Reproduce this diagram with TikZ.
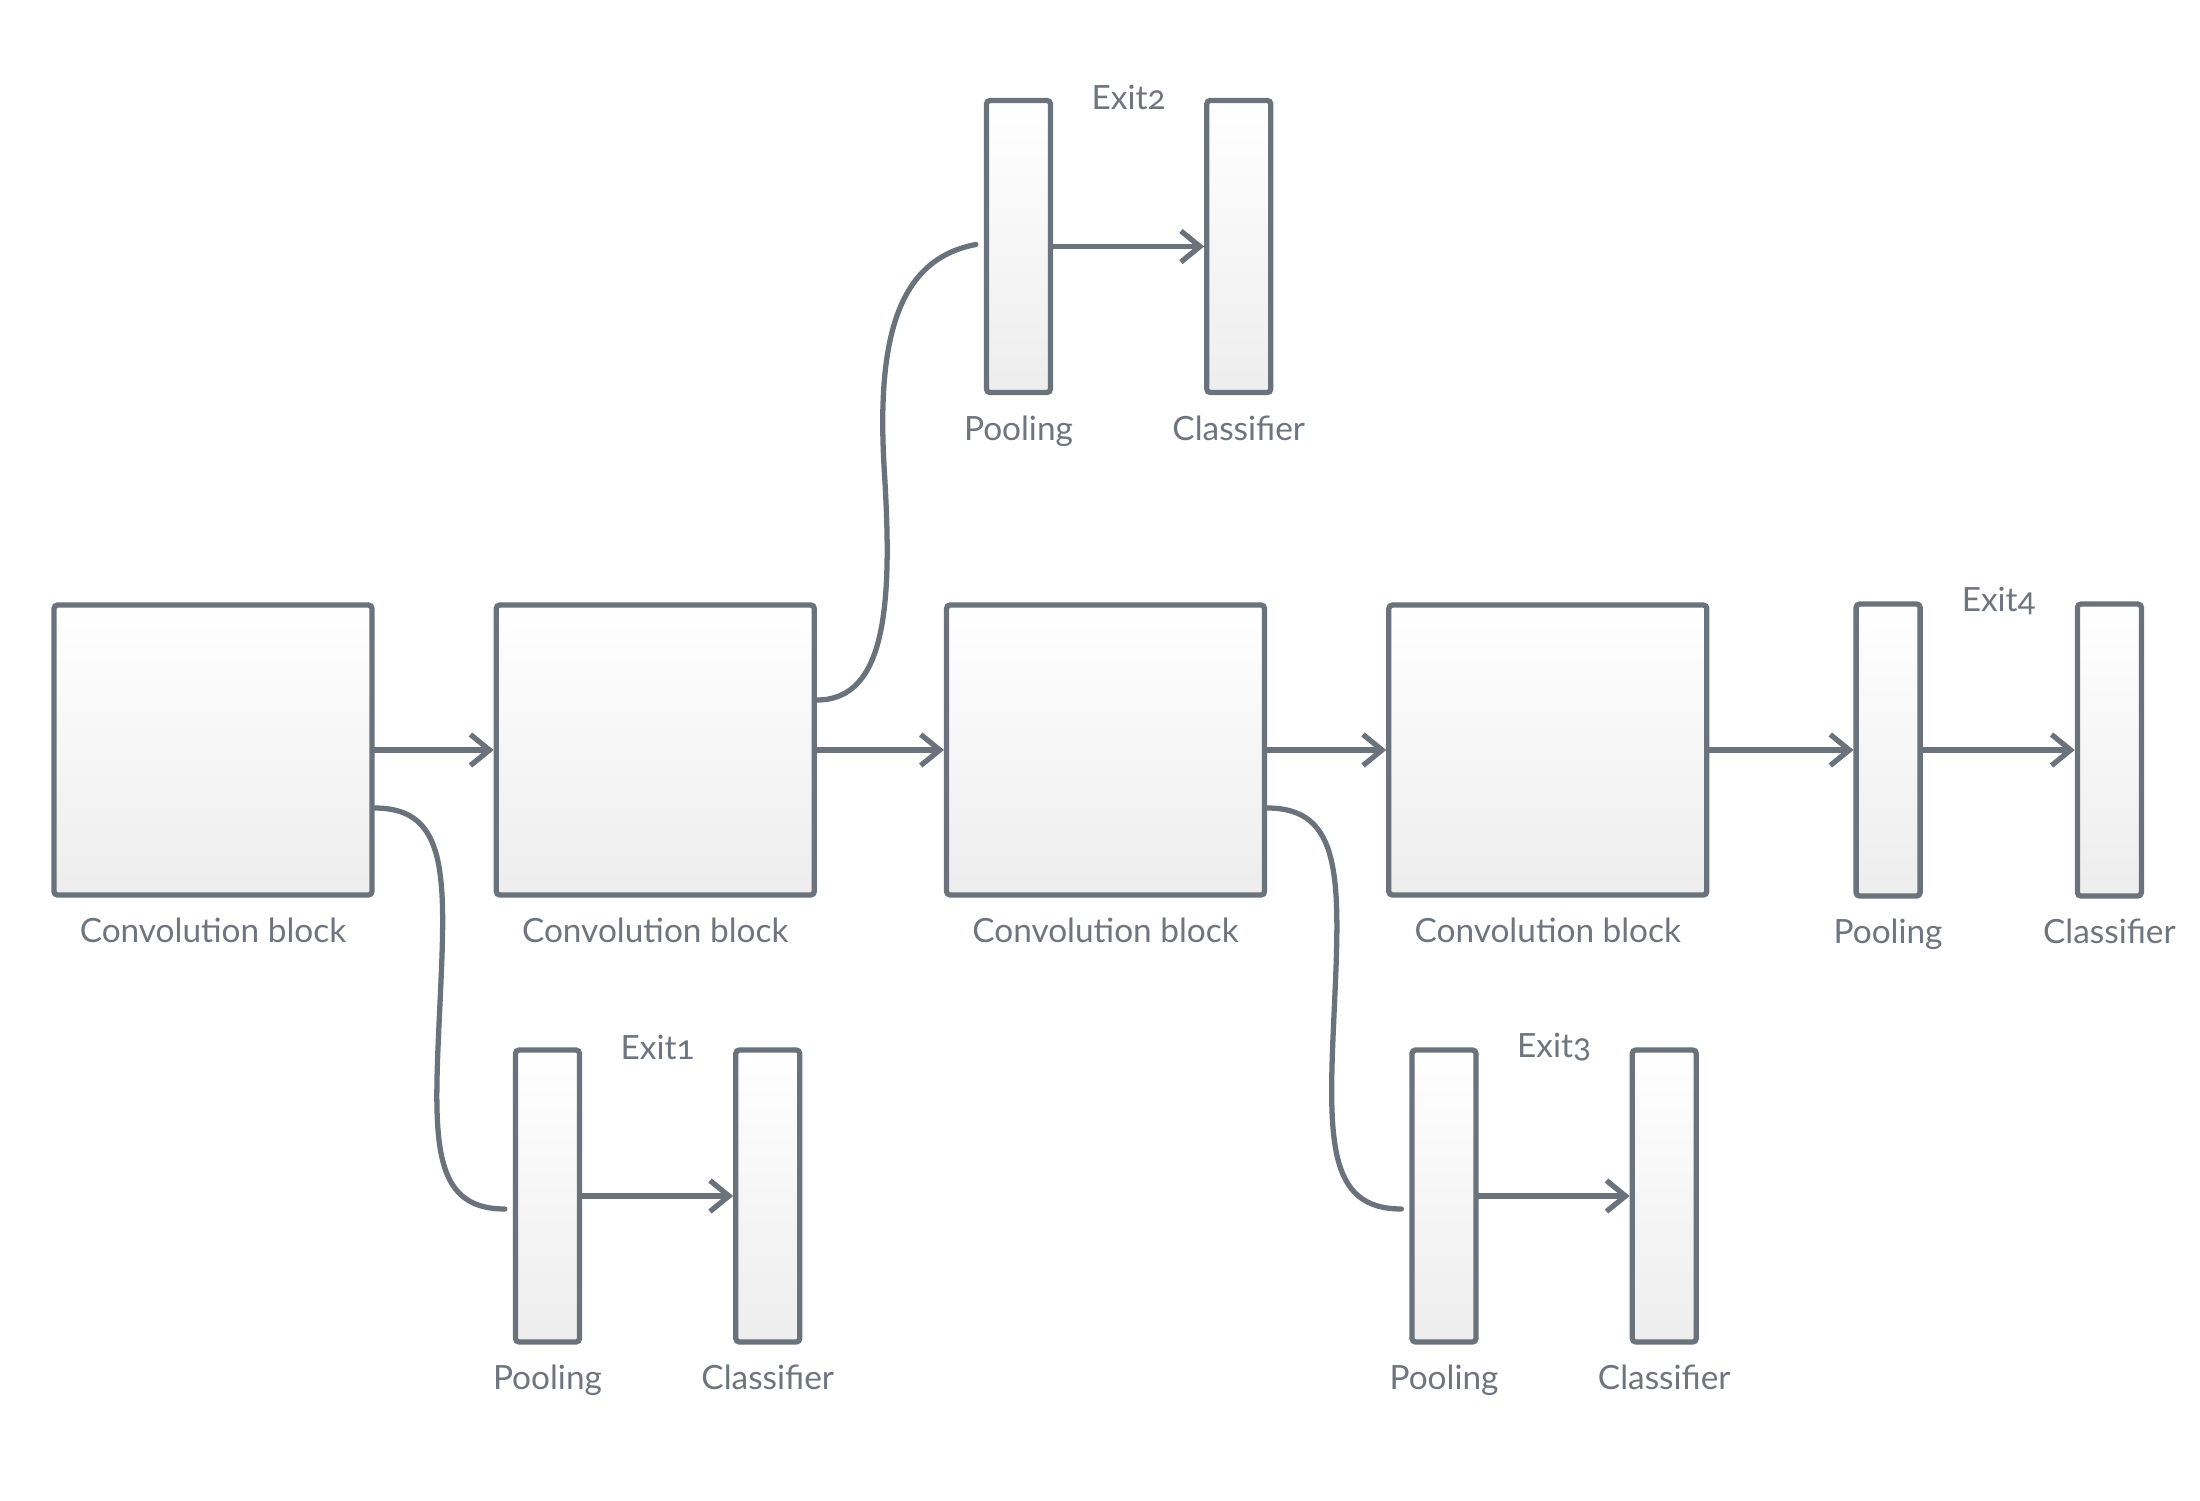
\documentclass[tikz,border=0pt]{standalone}
\usepackage{fontspec}
\setmainfont{Lato}[Numbers=OldStyle]
\usetikzlibrary{arrows.meta,positioning,calc}
\definecolor{edgegray}{RGB}{106,114,124}
\definecolor{textgray}{RGB}{110,117,127}
\tikzset{
every node/.style={font=\fontsize{9.5}{11}\selectfont, text=textgray}, % all labels in the same grey
block/.style={draw=edgegray, line width=1.5pt, rounded corners=1pt,
  top color=white, bottom color=black!7,
  minimum width=3.18cm, minimum height=2.9cm}, % convolution block
bar/.style={block, minimum width=0.64cm, minimum height=2.92cm}, % pooling / classifier
flow/.style={draw=edgegray, line width=1.5pt, line cap=round},
arr/.style={flow, -{Straight Barb[length=1.9mm,width=3.1mm]}},
}

\begin{document}
\begin{tikzpicture}[node distance=1.19cm]
\useasboundingbox (0,0) rectangle (22,15);
% backbone
\node[block] (c1) at (2.13,7.5) {};
\node[block, right=of c1] (c2) {};
\node[block, right=1.27cm of c2] (c3) {};
\node[block, right=of c3] (c4) {};
\node[bar, right=1.44cm of c4] (p4) {};
\node[bar, right=1.52cm of p4] (k4) {};
% early exits
\node[bar] (p1) at (5.475,3.04) {};
\node[bar, right=1.51cm of p1] (k1) {};
\node[bar] (p2) at (10.185,12.535) {};
\node[bar, right=1.51cm of p2] (k2) {};
\node[bar] (p3) at (14.44,3.04) {};
\node[bar, right=1.51cm of p3] (k3) {};
% labels and exit arrows
\foreach \i in {1,...,4} {
  \node[below=0.08cm of c\i] (lc\i) {Convolution block};
  \node[below=0.08cm of p\i] (lp\i) {Pooling};
  \node[below=0.08cm of k\i] (lk\i) {Classifier};
  \node (x\i) at ($(p\i.north)!0.5!(k\i.north)$) {Exit\i};
  \draw[arr] (p\i) -- (k\i);
}
\draw[arr] (c1) -- (c2);
\draw[arr] (c2) -- (c3);
\draw[arr] (c3) -- (c4);
\draw[arr] (c4) -- (p4);
% branches to the exits
\coordinate (s1) at ([yshift=-0.58cm]c1.east);
\coordinate (t1) at ([xshift=-0.08cm,yshift=-0.13cm]p1.west);
\coordinate (s2) at ([yshift=0.5cm]c2.east);
\coordinate (t2) at ([xshift=-0.08cm,yshift=0.02cm]p2.west);
\coordinate (s3) at ([yshift=-0.58cm]c3.east);
\coordinate (t3) at ([xshift=-0.08cm,yshift=-0.13cm]p3.west);
\draw[flow] (s1) .. controls +(0.75,0) and +(0.06,1.3) .. ($(s1)!0.5!(t1)$)
  .. controls +(-0.06,-1.3) and +(-0.75,0) .. (t1);
\draw[flow] (s3) .. controls +(0.75,0) and +(0.06,1.3) .. ($(s3)!0.5!(t3)$)
  .. controls +(-0.06,-1.3) and +(-0.75,0) .. (t3);
\draw[flow] (s2) .. controls +(0.7,0) and +(0.08,-1.3) .. ($(s2)!0.5!(t2)+(-0.12,0)$)
  .. controls +(-0.08,1.3) and +(-0.8,-0.15) .. (t2);
\end{tikzpicture}
\end{document}
